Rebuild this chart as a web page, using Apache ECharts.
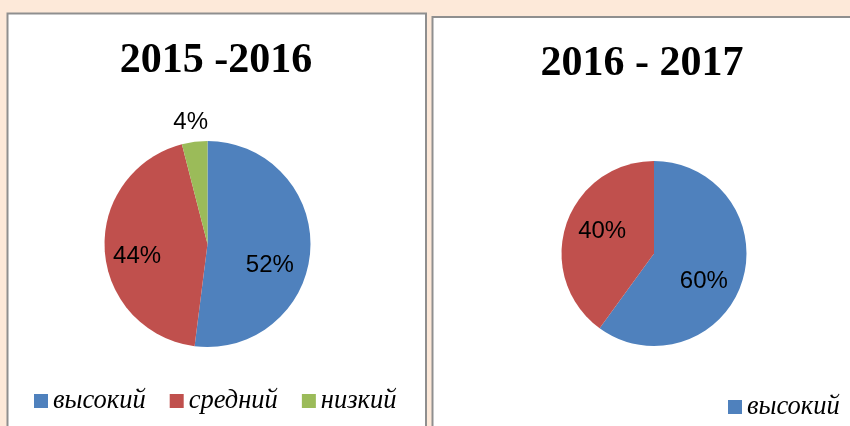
<!DOCTYPE html>
<html><head><meta charset="utf-8">
<script src="https://cdn.jsdelivr.net/npm/echarts@6/dist/echarts.min.js"></script>
<style>html,body{margin:0;padding:0;background:#FDE9D9;}#c{width:850px;height:426px;}</style>
</head><body><div id="c"></div>
<script>
const categories = ['высокий', 'средний', 'низкий'];
const values1516 = [52, 44, 4];
const values1617 = [60, 40];
const titles = ['2015 -2016', '2016 - 2017'];
const legendRight = ['высокий'];

const colors = ['#4F81BD', '#C0504D', '#9BBB59'];
const shiftLeft = [[8, 18], [-16, 9], [-10, -68]];
const shiftRight = [[3, 13], [-5, -7]];

const chart = echarts.init(document.getElementById('c'), null, {renderer: 'canvas'});

function pieSeries(vals, center, radius, shifts) {
  return {
    type: 'pie',
    center: center,
    radius: radius,
    startAngle: 90,
    clockwise: true,
    avoidLabelOverlap: false,
    silent: true,
    itemStyle: {borderWidth: 0},
    label: {
      show: true, position: 'inside', formatter: '{c}%',
      color: '#000', fontSize: 24, fontFamily: 'Liberation Sans'
    },
    labelLine: {show: false},
    emphasis: {disabled: true},
    labelLayout: function (p) { const s = shifts[p.dataIndex]; return {dx: s[0], dy: s[1]}; },
    data: vals.map((v, i) => ({name: categories[i], value: v, itemStyle: {color: colors[i]}}))
  };
}

const legendText = {fontFamily: 'Liberation Serif', fontStyle: 'italic', fontSize: 26.5, color: '#000'};

chart.setOption({
  animation: false,
  backgroundColor: '#FDE9D9',
  color: colors,
  graphic: [
    {type: 'rect', z: -10, shape: {x: 7.5, y: 13.5, width: 418.5, height: 440}, style: {fill: '#fff', stroke: '#8f8f8f', lineWidth: 2}},
    {type: 'rect', z: -10, shape: {x: 432.5, y: 17, width: 440, height: 440}, style: {fill: '#fff', stroke: '#8f8f8f', lineWidth: 2}},
    {type: 'text', x: 216, y: 61, style: {text: titles[0], fontSize: 42, fontWeight: 'bold', fontFamily: 'Liberation Serif', fill: '#000', align: 'center', verticalAlign: 'middle', textAlign: 'center', textVerticalAlign: 'middle'}},
    {type: 'text', x: 642, y: 64.5, style: {text: titles[1], fontSize: 42, fontWeight: 'bold', fontFamily: 'Liberation Serif', fill: '#000', align: 'center', verticalAlign: 'middle', textAlign: 'center', textVerticalAlign: 'middle'}}
  ],
  legend: [
    {left: 34, top: 387.5, padding: 0, icon: 'rect', itemWidth: 14, itemHeight: 14, itemGap: 24, selectedMode: false, data: categories, textStyle: legendText},
    {left: 728, top: 393.5, padding: 0, icon: 'rect', itemWidth: 14, itemHeight: 14, itemGap: 24, selectedMode: false, data: legendRight, textStyle: legendText}
  ],
  series: [
    pieSeries(values1516, [207.5, 244], 103, shiftLeft),
    pieSeries(values1617, [654, 253.5], 92.5, shiftRight)
  ]
});
</script></body></html>
